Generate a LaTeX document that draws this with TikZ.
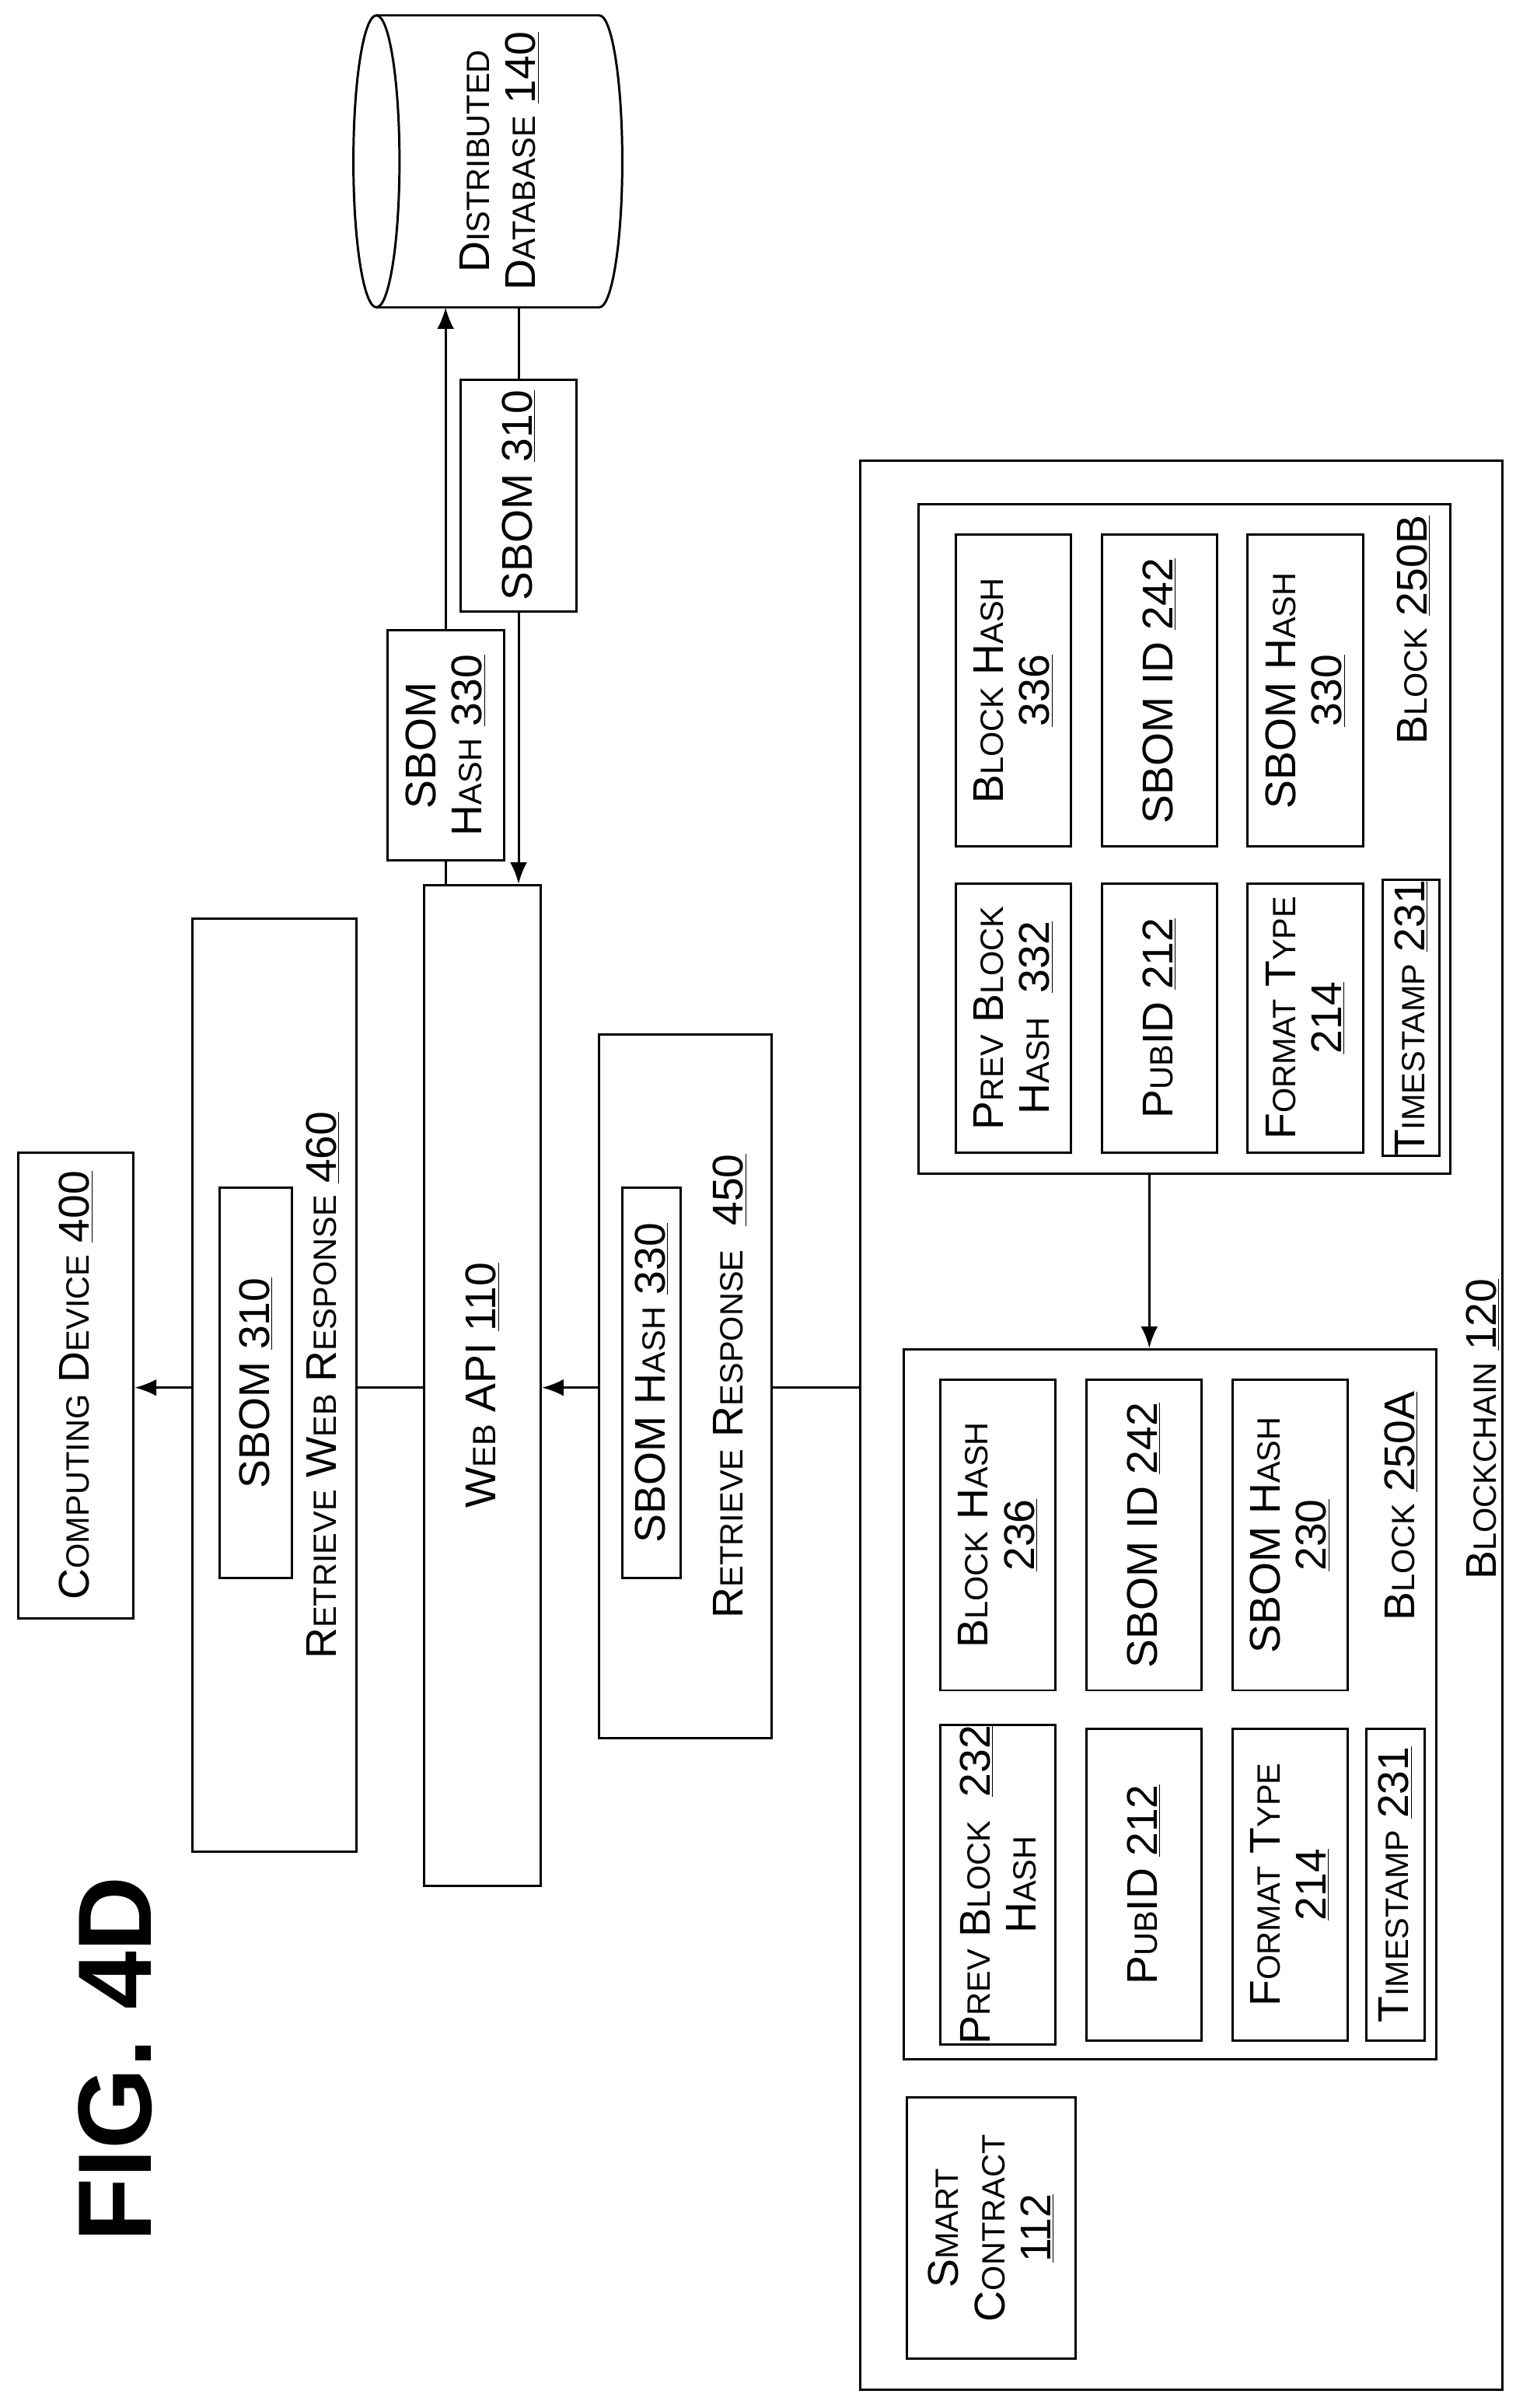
\documentclass[tikz,border=0pt]{standalone}
\usepackage{fontspec}
\setmainfont{Liberation Sans}
\usetikzlibrary{arrows.meta}
\newcommand\s[1]{{\fontsize{21}{24}\selectfont #1}}
\newcommand\un[1]{\underline{#1}}
\begin{document}
\begin{tikzpicture}[x=1pt,y=1pt,line width=1.5pt,
 box/.style={draw,fill=white,rotate=90,inner sep=0pt,align=center,font=\fontsize{28}{30}\selectfont},
 lbl/.style={rotate=90,inner sep=0pt,align=center,font=\fontsize{28}{30}\selectfont},
 arr/.style={-{Latex[length=14pt,width=11pt]}}]
\useasboundingbox (0,0) rectangle (1000,1567);
\node[rotate=90,font=\bfseries\fontsize{68}{70}\selectfont] (fig) at (75,227) {FIG. 4D};
\node[box,minimum width=303,minimum height=75] (cd) at (49.5,665.5) {C\s{OMPUTING} D\s{EVICE} \un{400}};
\node[box,minimum width=607,minimum height=107] (rwr) at (178.5,665.5) {};
\node[box,minimum width=254,minimum height=47] (s310a) at (166.5,667) {SBOM \un{310}};
\node[lbl] (rwrl) at (210,665.5) {R\s{ETRIEVE} W\s{EB} R\s{ESPONSE} \un{460}};
\node[box,minimum width=651,minimum height=76] (api) at (314,665.5) {W\s{EB} API \un{110}};
\node[box,minimum width=458,minimum height=112] (rr) at (446,665) {};
\node[box,minimum width=254,minimum height=38] (h330a) at (424,667) {SBOM H\s{ASH} \un{330}};
\node[lbl] (rrl) at (475,665) {R\s{ETRIEVE} R\s{ESPONSE}\ \ \un{450}};
\node[box,minimum width=1255,minimum height=418] (bc) at (769,639.5) {};
\node[lbl] (bcl) at (965,637) {B\s{LOCKCHAIN} \un{120}};
% Block 250B
\node[box,minimum width=436,minimum height=346] (bB) at (771,1021) {};
\node[lbl] (bBl) at (920,1157) {B\s{LOCK} \un{250B}};
\node[box,minimum width=203,minimum height=75] (bB1) at (659.5,1117.5) {B\s{LOCK} H\s{ASH}\\\un{336}};
\node[box,minimum width=203,minimum height=75] (bB2) at (754.5,1117.5) {SBOM ID \un{242}};
\node[box,minimum width=203,minimum height=75] (bB3) at (849.5,1117.5) {SBOM H\s{ASH}\\\un{330}};
\node[box,minimum width=175,minimum height=75] (bB4) at (659.5,904.5) {P\s{REV} B\s{LOCK}\\H\s{ASH}\ \ \un{332}};
\node[box,minimum width=175,minimum height=75] (bB5) at (754.5,904.5) {P\s{UB}ID \un{212}};
\node[box,minimum width=175,minimum height=75] (bB6) at (849.5,904.5) {F\s{ORMAT} T\s{YPE}\\\un{214}};
\node[box,minimum width=175,minimum height=37] (bB7) at (918.5,904.5) {T\s{IMESTAMP} \un{231}};
% Block 250A
\node[box,minimum width=462,minimum height=347] (bA) at (761.5,458) {};
\node[lbl] (bAl) at (912,587) {B\s{LOCK} \un{250A}};
\node[box,minimum width=202,minimum height=75] (bA1) at (649.5,568) {B\s{LOCK} H\s{ASH}\\\un{236}};
\node[box,minimum width=202,minimum height=75] (bA2) at (744.5,568) {SBOM ID \un{242}};
\node[box,minimum width=202,minimum height=75] (bA3) at (839.5,568) {SBOM H\s{ASH}\\\un{230}};
\node[box,minimum width=203,minimum height=75] (bA4) at (649.5,340.5) {P\s{REV} B\s{LOCK}\ \ \un{232}\\H\s{ASH}};
\node[box,minimum width=203,minimum height=75] (bA5) at (744.5,340.5) {P\s{UB}ID \un{212}};
\node[box,minimum width=203,minimum height=75] (bA6) at (839.5,340.5) {F\s{ORMAT} T\s{YPE}\\\un{214}};
\node[box,minimum width=203,minimum height=38] (bA7) at (908,340.5) {T\s{IMESTAMP} \un{231}};
\node[box,minimum width=170,minimum height=110] (sc) at (645,117) {S\s{MART}\\C\s{ONTRACT}\\\un{112}};
% database
\draw (245,1557) -- (390,1557) arc[start angle=90,end angle=-90,x radius=15,y radius=95] -- (245,1367);
\draw (245,1462) ellipse[x radius=15,y radius=95];
\node[lbl] (db) at (325,1462) {D\s{ISTRIBUTED}\\D\s{ATABASE} \un{140}};
\coordinate (dbb) at (0,1367);
\node[box,minimum width=150,minimum height=76] (h330b) at (290,1082) {SBOM\\H\s{ASH} \un{330}};
\node[box,minimum width=151,minimum height=75] (s310b) at (337.5,1244.5) {SBOM \un{310}};
% connectors
\coordinate (h) at (0,664);
\draw (bc.north |- h) -- (rr.south |- h);
\draw[arr] (rr.north |- h) -- (api.south |- h);
\draw (api.north |- h) -- (rwr.south |- h);
\draw[arr] (rwr.north |- h) -- (cd.south |- h);
\coordinate (ar) at (748,0);
\draw[arr] (bB.west -| ar) -- (bA.east -| ar);
\draw (api.east -| h330b) -- (h330b.west);
\draw[arr] (h330b.east) -- (dbb -| h330b);
\draw (dbb -| s310b) -- (s310b.east);
\draw[arr] (s310b.west) -- (api.east -| s310b);
\end{tikzpicture}
\end{document}
